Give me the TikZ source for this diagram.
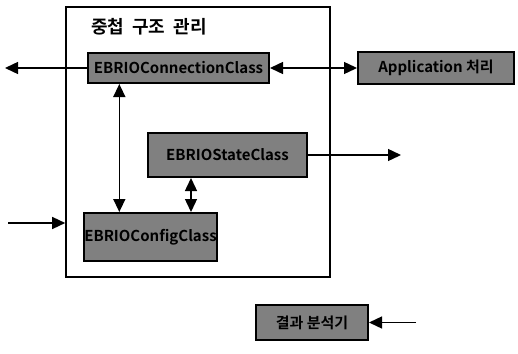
\documentclass[tikz,border=0pt]{standalone}
\usepackage{fontspec}
\usepackage{tikz}
\newfontfamily\kor{Noto Sans CJK KR}[BoldFont={Noto Sans CJK KR Bold}]
\usetikzlibrary{
	positioning,
	calc,
	arrows.meta
}

\begin{document}
\begin{tikzpicture}[
	x=0.5pt,y=-0.5pt,
	c_frame/.style={
		draw=black,
		line width=0.8pt,
		inner sep=0pt
	},
	c_box/.style={
		draw=black,
		fill=black!50,
		line width=1pt,
		inner sep=0pt,
		font=\kor\bfseries\fontsize{7.5}{9}\selectfont
	},
	c_arrow/.style={
		line width=0.7pt,
		-{Triangle[length=6.5pt,width=6pt]}
	},
	c_dbl/.style={
		line width=0.7pt,
		{Triangle[length=6.5pt,width=6pt]}-{Triangle[length=6.5pt,width=6pt]}
	}
	]
	
	\useasboundingbox (0,0) rectangle (518,353);
	
	% =========================================================================
	% OUTER FRAME
	% =========================================================================
	
	\node[c_frame,minimum width=132pt,minimum height=135pt]
	(frame) at (198,142) {};
	
	\node[font=\kor\bfseries\fontsize{9}{11}\selectfont,anchor=west]
	(title) at (84,27) {중첩~~구조~~관리};
	
	% =========================================================================
	% BOXES
	% =========================================================================
	
	\node[c_box,minimum width=90.5pt,minimum height=15pt]
	(conn) at (178.5,68) {EBRIOConnectionClass};
	
	\node[c_box,minimum width=78pt,minimum height=16pt]
	(app) at (436,68) {Application 처리};
	
	\node[c_box,minimum width=79.5pt,minimum height=22pt]
	(state) at (227.5,155) {EBRIOStateClass};
	
	\node[c_box,minimum width=62.5pt,minimum height=24pt]
	(config) at (150.5,237) {EBRIOConfigClass};
	
	\node[c_box,minimum width=56pt,minimum height=17.5pt]
	(result) at (312,322.5) {결과 분석기};
	
	% Free ends
	\coordinate (outL) at (5,68);
	\coordinate (outR) at (401,155);
	\coordinate (inL) at (8,223);
	\coordinate (inR) at (416,322.5);
	
	% =========================================================================
	% CONNECTORS
	% =========================================================================
	
	\draw[c_arrow] (conn.west) -- (outL);
	\draw[c_dbl] (conn.east) -- (app.west);
	
	\draw[c_dbl]
	([xshift=18pt]config.north west) -- ([xshift=18pt]config.north west |- conn.south);
	
	\draw[c_dbl]
	([xshift=22pt]state.south west) -- ([xshift=22pt]state.south west |- config.north);
	
	\draw[c_arrow] (state.east) -- (outR);
	\draw[c_arrow] (inL) -- (inL -| frame.west);
	\draw[c_arrow] (inR) -- (result.east);
	
\end{tikzpicture}
\end{document}
